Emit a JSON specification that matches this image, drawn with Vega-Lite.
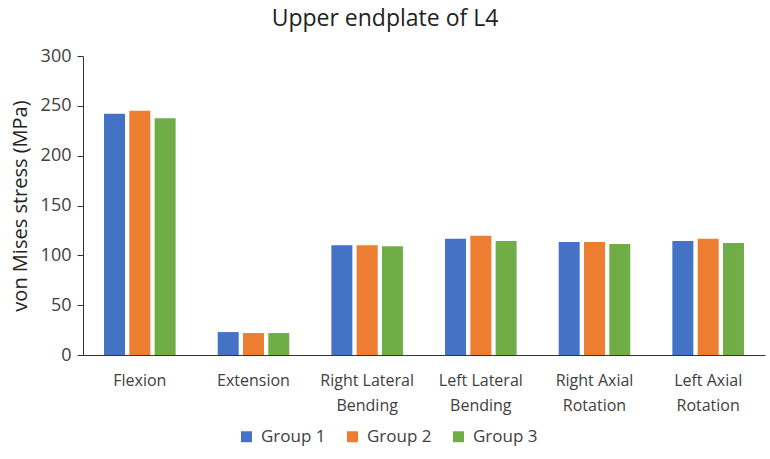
{
  "$schema": "https://vega.github.io/schema/vega-lite/v6.json",
  "autosize": {"type": "none"},
  "padding": {"left": 83, "top": 56, "right": 5, "bottom": 104},
  "width": 682,
  "height": 299,
  "background": "white",
  "title": {"text": "Upper endplate of L4", "fontSize": 23, "font": "Open Sans", "fontWeight": "normal", "color": "#222222", "offset": 16, "dx": -39},
  "data": {"values": [
    {"motion": "Flexion", "group": "Group 1", "stress": 242},
    {"motion": "Flexion", "group": "Group 2", "stress": 245},
    {"motion": "Flexion", "group": "Group 3", "stress": 237.5},
    {"motion": "Extension", "group": "Group 1", "stress": 23},
    {"motion": "Extension", "group": "Group 2", "stress": 22},
    {"motion": "Extension", "group": "Group 3", "stress": 22},
    {"motion": "Right Lateral Bending", "group": "Group 1", "stress": 110},
    {"motion": "Right Lateral Bending", "group": "Group 2", "stress": 110},
    {"motion": "Right Lateral Bending", "group": "Group 3", "stress": 109},
    {"motion": "Left Lateral Bending", "group": "Group 1", "stress": 116.7},
    {"motion": "Left Lateral Bending", "group": "Group 2", "stress": 119.7},
    {"motion": "Left Lateral Bending", "group": "Group 3", "stress": 114.3},
    {"motion": "Right Axial Rotation", "group": "Group 1", "stress": 113.3},
    {"motion": "Right Axial Rotation", "group": "Group 2", "stress": 113.3},
    {"motion": "Right Axial Rotation", "group": "Group 3", "stress": 111.3},
    {"motion": "Left Axial Rotation", "group": "Group 1", "stress": 114.3},
    {"motion": "Left Axial Rotation", "group": "Group 2", "stress": 116.7},
    {"motion": "Left Axial Rotation", "group": "Group 3", "stress": 112.3}
  ]},
  "mark": {"type": "bar"},
  "encoding": {
    "x": {
      "field": "motion", "type": "nominal", "sort": null,
      "scale": {"paddingInner": 0.37, "paddingOuter": 0.185},
      "axis": {
        "title": null, "labelAngle": 0, "ticks": false, "domainColor": "#333333", "domainWidth": 1.2,
        "labelFont": "Open Sans", "labelFontSize": 16, "labelColor": "#404040", "labelPadding": 17,
        "labelExpr": "datum.label == 'Right Lateral Bending' ? ['Right Lateral', 'Bending'] : datum.label == 'Left Lateral Bending' ? ['Left Lateral', 'Bending'] : datum.label == 'Right Axial Rotation' ? ['Right Axial', 'Rotation'] : datum.label == 'Left Axial Rotation' ? ['Left Axial', 'Rotation'] : datum.label",
        "labelLineHeight": 25, "labelBaseline": "top"
      }
    },
    "xOffset": {"field": "group", "type": "nominal", "scale": {"paddingInner": 0.17}},
    "y": {
      "field": "stress", "type": "quantitative",
      "scale": {"domain": [0, 300]},
      "axis": {
        "title": "von Mises stress (MPa)", "titleFont": "Open Sans", "titleFontSize": 20, "titleFontWeight": "normal", "titleColor": "#222222", "titlePadding": 10,
        "values": [0, 50, 100, 150, 200, 250, 300], "grid": false,
        "labelFont": "Open Sans", "labelFontSize": 18, "labelColor": "#404040", "labelPadding": 6,
        "domainColor": "#333333", "tickColor": "#333333", "tickSize": 6
      }
    },
    "color": {
      "field": "group", "type": "nominal",
      "scale": {"domain": ["Group 1", "Group 2", "Group 3"], "range": ["#4472C4", "#ED7D31", "#70AD47"]},
      "legend": {
        "title": null, "orient": "none", "direction": "horizontal", "legendX": 155, "legendY": 372,
        "symbolType": "square", "symbolSize": 120, "symbolOpacity": 1, "symbolStrokeWidth": 0,
        "labelFont": "Open Sans", "labelFontSize": 17, "labelColor": "#404040", "columnPadding": 18, "labelOffset": 6
      }
    }
  },
  "config": {"view": {"stroke": null}}
}
